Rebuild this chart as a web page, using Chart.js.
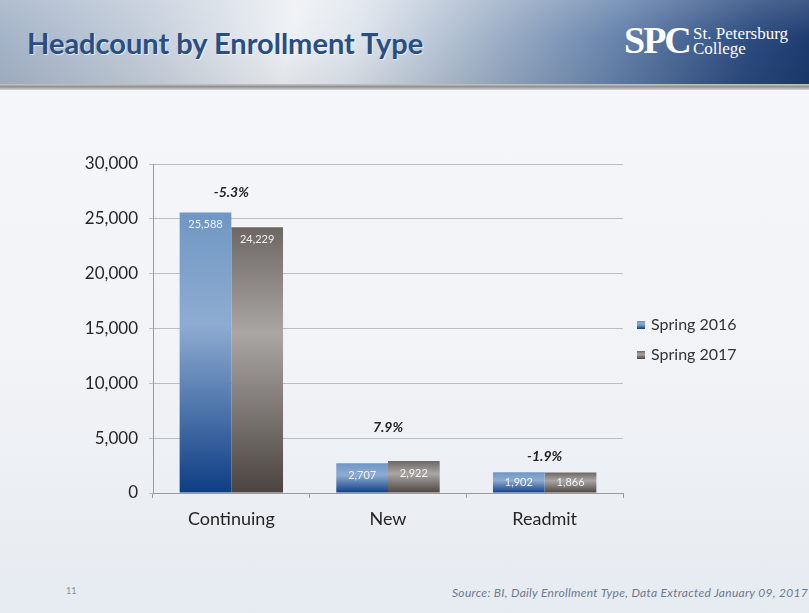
<!DOCTYPE html>
<html>
<head>
<meta charset="utf-8">
<script src="https://cdn.jsdelivr.net/npm/chart.js@4"></script>
<style>
  html, body { margin: 0; padding: 0; }
  body {
    width: 809px; height: 613px; overflow: hidden; position: relative;
    background: linear-gradient(180deg, #f6f7f9 0%, #f1f3f6 60%, #e6ebf1 100%);
    font-family: Lato, "Open Sans", sans-serif;
  }
  #header {
    position: absolute; left: 0; top: 0; width: 809px; height: 84px;
    background:
      linear-gradient(180deg, rgba(255,255,255,0.15) 0%, rgba(255,255,255,0) 45%, rgba(0,0,0,0.06) 100%),
      linear-gradient(100deg, #a2b2c7 0%, #c3cdda 18%, #eef1f5 36%, #dfe5ed 44%, #a9b9cd 58%, #6683ac 76%, #2c4b7f 92%, #1b3a6e 100%);
  }
  #rule {
    position: absolute; left: 0; top: 84px; width: 809px; height: 6px;
    background: linear-gradient(180deg, #c9c9c9 0%, #8f8f8f 45%, #d5d7da 100%);
  }
  #title {
    position: absolute; left: 27px; top: 25px;
    font: bold 29px Lato, "Open Sans", sans-serif; color: #2a4d82;
    text-shadow: 1px 1px 1px rgba(255,255,255,0.7);
    white-space: nowrap;
  }
  #logo { position: absolute; left: 624px; top: 18px; color: #fff; font-family: "Liberation Serif", "DejaVu Serif", serif; }
  #logo .spc { position: absolute; left: 0; top: 0; font-size: 38px; font-weight: bold; letter-spacing: -2px; }
  #logo .name { position: absolute; left: 69px; top: 8px; font-size: 17px; line-height: 15px; white-space: nowrap; }
  #pageNum { position: absolute; left: 66px; top: 585px; font-size: 9px; color: #8a8f96; }
  #source { position: absolute; left: 452px; top: 585px; font-size: 12px; letter-spacing: 0.3px; font-style: italic; color: #6b7a8f; white-space: nowrap; }
  #chart { position: absolute; left: 0; top: 0; }
</style>
</head>
<body>
<div id="header"></div>
<div id="rule"></div>
<div id="title">Headcount by Enrollment Type</div>
<div id="logo"><span class="spc">SPC</span><span class="name">St. Petersburg<br>College</span></div>
<div id="pageNum">11</div>
<div id="source">Source: BI, Daily Enrollment Type, Data Extracted January 09, 2017</div>
<canvas id="chart" width="809" height="613"></canvas>
<script>
// chart data
const categories = ["Continuing", "New", "Readmit"];
const seriesNames = ["Spring 2016", "Spring 2017"];
const spring2016 = [25588, 2707, 1902];
const spring2017 = [24229, 2922, 1866];

// gradient stops per series (top -> bottom)
const blueStops = [[0, '#6f97c4'], [0.4, '#8eacd1'], [1, '#0e3d84']];
const grayStops = [[0, '#6d6764'], [0.4, '#aaa6a4'], [1, '#4b4440']];

// pixel offsets of the % change labels above the taller bar
const changeOffsets = [20, 33, 16];

const fmt = (v) => v.toLocaleString('en-US');

function barGradient(stops) {
  return function(context) {
    const chart = context.chart;
    const y = chart.scales && chart.scales.y;
    if (!chart.chartArea || !y || context.raw == null) return stops[1][1];
    const top = y.getPixelForValue(context.raw);
    const bottom = y.getPixelForValue(0);
    const g = chart.ctx.createLinearGradient(0, top, 0, bottom);
    stops.forEach(s => g.addColorStop(s[0], s[1]));
    return g;
  };
}

// values inside the bars and % change above each group
const labelsPlugin = {
  id: 'labelsPlugin',
  afterDatasetsDraw(chart) {
    const ctx = chart.ctx;
    const y0 = chart.scales.y.getPixelForValue(0);
    ctx.save();
    ctx.textAlign = 'center';
    ctx.textBaseline = 'middle';
    ctx.font = '11px Lato, "Open Sans", sans-serif';
    ctx.fillStyle = 'rgba(255,255,255,0.9)';
    chart.data.datasets.forEach((ds, di) => {
      chart.getDatasetMeta(di).data.forEach((bar, i) => {
        const ly = Math.min(bar.y + 12, (bar.y + y0) / 2);
        ctx.fillText(fmt(ds.data[i]), bar.x, ly);
      });
    });
    ctx.font = 'italic bold 14px Lato, "Open Sans", sans-serif';
    ctx.fillStyle = '#222';
    const m0 = chart.getDatasetMeta(0).data;
    const m1 = chart.getDatasetMeta(1).data;
    categories.forEach((c, i) => {
      const pct = (spring2017[i] - spring2016[i]) / spring2016[i] * 100;
      const x = (m0[i].x + m1[i].x) / 2;
      const top = Math.min(m0[i].y, m1[i].y);
      ctx.fillText(pct.toFixed(1) + '%', x, top - changeOffsets[i]);
    });
    ctx.restore();
  }
};

// legend on the right, drawn by hand to keep its position
const legendPlugin = {
  id: 'legendPlugin',
  afterDraw(chart) {
    const ctx = chart.ctx;
    const stops = [blueStops, grayStops];
    ctx.save();
    ctx.font = '16px Lato, "Open Sans", sans-serif';
    ctx.textBaseline = 'middle';
    chart.data.datasets.forEach((ds, i) => {
      const cy = 325 + i * 30;
      const g = ctx.createLinearGradient(0, cy - 4, 0, cy + 4);
      stops[i].forEach(s => g.addColorStop(s[0], s[1]));
      ctx.fillStyle = g;
      ctx.fillRect(637, cy - 4, 8, 8);
      ctx.fillStyle = '#333';
      ctx.fillText(ds.label, 651, cy);
    });
    ctx.restore();
  }
};

new Chart(document.getElementById('chart'), {
  type: 'bar',
  data: {
    labels: categories,
    datasets: [
      { label: seriesNames[0], data: spring2016, backgroundColor: barGradient(blueStops) },
      { label: seriesNames[1], data: spring2017, backgroundColor: barGradient(grayStops) }
    ]
  },
  options: {
    responsive: false,
    animation: false,
    layout: { padding: { left: 43, right: 186, top: 164, bottom: 75 } },
    datasets: { bar: { categoryPercentage: 0.66, barPercentage: 1.0 } },
    scales: {
      x: {
        afterFit(scale) { scale.height = 45; },
        grid: { offset: true, drawOnChartArea: false, tickLength: 5, color: '#9a9a9a' },
        border: { color: '#9a9a9a' },
        ticks: { color: '#262626', padding: 10, font: { family: 'Lato, "Open Sans", sans-serif', size: 18 } }
      },
      y: {
        min: 0, max: 30000,
        afterFit(scale) { scale.width = 110; },
        grid: { color: '#bdbdbd', tickLength: 4 },
        border: { color: '#9a9a9a' },
        ticks: {
          stepSize: 5000, color: '#262626', padding: 11,
          font: { family: 'Lato, "Open Sans", sans-serif', size: 17 },
          callback: (v) => fmt(v)
        }
      }
    },
    plugins: {
      legend: { display: false },
      tooltip: { enabled: false }
    }
  },
  plugins: [labelsPlugin, legendPlugin]
});
</script>
</body>
</html>
